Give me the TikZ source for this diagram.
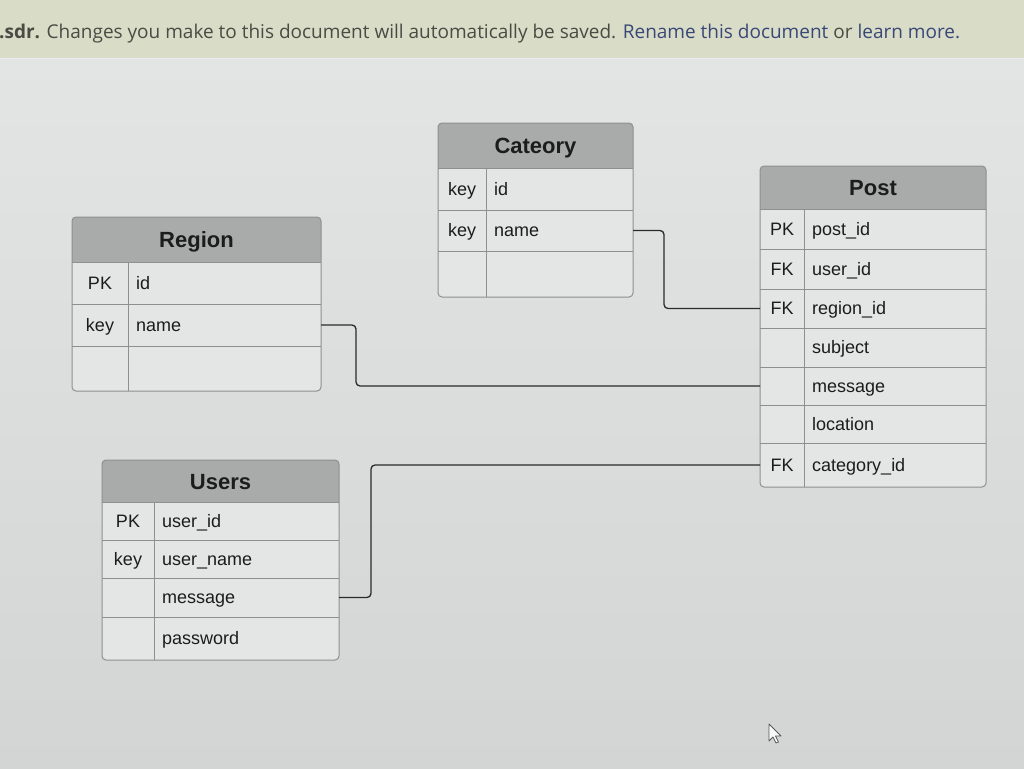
\documentclass[tikz,border=0pt]{standalone}
\usepackage{fontspec}
\setmainfont{Liberation Sans}
\newfontfamily\bannerfont{Open Sans}
\definecolor{bgtop}{HTML}{E2E5E4}
\definecolor{bgbot}{HTML}{D2D5D4}
\definecolor{banner}{HTML}{D9DCC6}
\definecolor{hdr}{HTML}{A9ABAA}
\definecolor{cell}{HTML}{E4E6E5}
\definecolor{edge}{HTML}{8E908F}
\definecolor{ink}{HTML}{1C1C1C}
\definecolor{grayink}{HTML}{4A4B44}
\definecolor{link}{HTML}{3A4878}
\definecolor{wire}{HTML}{2A2A2A}
\tikzset{
  tbody/.style={fill=cell},
  tborder/.style={draw=edge, line width=1pt, rounded corners=4pt},
  sep/.style={draw=edge, line width=1pt},
  rowbox/.style={inner sep=0pt, outer sep=0pt, anchor=north west},
  keytxt/.style={font=\fontsize{18}{21}\selectfont, text=ink, anchor=base, inner sep=0pt},
  valtxt/.style={font=\fontsize{18}{21}\selectfont, text=ink, anchor=base west, inner sep=0pt},
  titletxt/.style={font=\bfseries\fontsize{22}{25}\selectfont, text=ink, anchor=base, inner sep=0pt},
  wirestyle/.style={draw=wire, line width=1.3pt, rounded corners=4pt},
  cursorshape/.style={fill=white!95!gray, draw=gray!70!black, line width=0.8pt, line join=round}
}
% name x1 x2 ytop yhead ybot title
\newcommand{\ertable}[7]{%
  \path[tbody, rounded corners=4pt] (#2,#4) rectangle (#3,#6);
  \path[fill=hdr] (#2,#5) [rounded corners=4pt] -- (#2,#4) -- (#3,#4) [sharp corners] -- (#3,#5) -- cycle;
  \path[tborder] (#2,#4) rectangle (#3,#6);
  \node[titletxt] (#1) at ({(#2+#3)/2},{(#4+#5)/2+8}) {#7};
}
% name x1 x2 ya yb div key value
\newcommand{\errow}[8]{%
  \node[rowbox, minimum width={(#3-#2)*1pt}, minimum height={(#5-#4)*1pt}] (#1) at (#2,#4) {};
  \draw[sep] (#2,#4) -- (#3,#4);
  \draw[sep] (#6,#4) -- (#6,#5);
  \node[keytxt] at ({(#2+#6)/2},{(#4+#5)/2+6}) {#7};
  \node[valtxt] at ({#6+8},{(#4+#5)/2+6}) {#8};
}
\begin{document}
\begin{tikzpicture}[x=1pt,y=-1pt]
\useasboundingbox (0,0) rectangle (1024,768);
% background
\shade[top color=bgtop, bottom color=bgbot] (0,58) rectangle (1024,768);
\fill[banner] (0,0) rectangle (1024,58);
\draw[color=white!85!gray, line width=1pt] (0,58.5) -- (1024,58.5);
\node[anchor=base west, inner sep=0pt, font=\bannerfont\fontsize{19}{22}\selectfont, text=grayink] (banner) at (-1,39)
  {\textbf{.sdr.} Changes you make to this document will automatically be saved. {\color{link}Rename this document} or {\color{link}learn more.}};

% Cateory
\ertable{cat}{438}{633}{123}{168}{297}{Cateory}
\errow{cat-id}{438}{633}{168}{210}{486}{key}{id}
\errow{cat-name}{438}{633}{210}{251}{486}{key}{name}
\errow{cat-empty}{438}{633}{251}{297}{486}{}{}

% Region
\ertable{region}{72}{321}{217}{262}{391}{Region}
\errow{region-id}{72}{321}{262}{304}{128}{PK}{id}
\errow{region-name}{72}{321}{304}{346}{128}{key}{name}
\errow{region-empty}{72}{321}{346}{391}{128}{}{}

% Post
\ertable{post}{760}{986}{166}{209}{487}{Post}
\errow{post-postid}{760}{986}{209}{249}{804}{PK}{post\_id}
\errow{post-userid}{760}{986}{249}{289}{804}{FK}{user\_id}
\errow{post-region}{760}{986}{289}{328}{804}{FK}{region\_id}
\errow{post-subject}{760}{986}{328}{367}{804}{}{subject}
\errow{post-message}{760}{986}{367}{405}{804}{}{message}
\errow{post-location}{760}{986}{405}{443}{804}{}{location}
\errow{post-category}{760}{986}{443}{487}{804}{FK}{category\_id}

% Users
\ertable{users}{102}{339}{460}{502}{660}{Users}
\errow{users-id}{102}{339}{502}{540}{154}{PK}{user\_id}
\errow{users-name}{102}{339}{540}{578}{154}{key}{user\_name}
\errow{users-message}{102}{339}{578}{617}{154}{}{message}
\errow{users-password}{102}{339}{617}{660}{154}{}{password}

% connectors
\draw[wirestyle] (cat-name.east) -- ++(31,0) |- (post-region.west);
\draw[wirestyle] (region-name.east) -- ++(35,0) |- (post-message.west);
\draw[wirestyle] (users-message.east) -- ++(32,0) |- (post-category.west);

% mouse cursor
\path[cursorshape] (769,724) -- (769,741) -- (773,737) -- (776,743) -- (778.5,742) -- (775.5,736) -- (781,736) -- cycle;
\end{tikzpicture}
\end{document}
